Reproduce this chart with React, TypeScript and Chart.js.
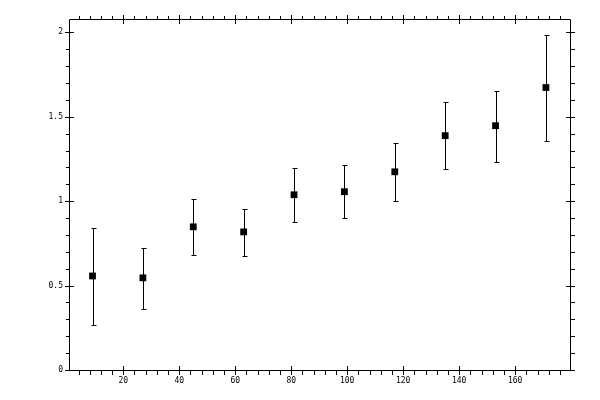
import { useEffect, useRef } from "react"
import { Chart, registerables } from "chart.js"

Chart.register(...registerables)

// measured values, x every 18 units
const xValues = [9, 27, 45, 63, 81, 99, 117, 135, 153, 171]
const yValues = [0.557, 0.546, 0.848, 0.818, 1.038, 1.056, 1.174, 1.388, 1.447, 1.673]
const yLow = [0.266, 0.361, 0.681, 0.676, 0.878, 0.901, 1.002, 1.192, 1.234, 1.358]
const yHigh = [0.84, 0.724, 1.015, 0.953, 1.198, 1.216, 1.347, 1.59, 1.655, 1.985]

const xMajorTicks = [20, 40, 60, 80, 100, 120, 140, 160]
const xMinorTicks = [4, 8, 12, 16, 24, 28, 32, 36, 44, 48, 52, 56, 64, 68, 72, 76, 84, 88, 92, 96, 104, 108, 112, 116, 124, 128, 132, 136, 144, 148, 152, 156, 164, 168, 172, 176]
const yMajorTicks = [0, 0.5, 1, 1.5, 2]
const yMinorTicks = [0.1, 0.2, 0.3, 0.4, 0.6, 0.7, 0.8, 0.9, 1.1, 1.2, 1.3, 1.4, 1.6, 1.7, 1.8, 1.9]

const X_MIN = 0.6
const X_MAX = 179.6
const Y_MIN = 0
const Y_MAX = 2.079

const px = (v: number) => Math.round(v) + 0.5

// frame, tick marks on all four sides and the error bars
const framePlugin = {
  id: "frame",
  afterDatasetsDraw(chart: any) {
    const { ctx, chartArea, scales } = chart
    const { left, right, top, bottom } = chartArea
    const xs = scales.x
    const ys = scales.y
    ctx.save()
    ctx.strokeStyle = "#000"
    ctx.lineWidth = 1
    ctx.beginPath()
    ctx.rect(px(left), px(top), Math.round(right) - Math.round(left), Math.round(bottom) - Math.round(top))

    xMajorTicks.forEach((v) => {
      const x = px(xs.getPixelForValue(v))
      ctx.moveTo(x, Math.round(bottom) - 4)
      ctx.lineTo(x, Math.round(bottom) + 5)
      ctx.moveTo(x, Math.round(top) - 4)
      ctx.lineTo(x, Math.round(top) + 5)
    })
    xMinorTicks.forEach((v) => {
      const x = px(xs.getPixelForValue(v))
      ctx.moveTo(x, Math.round(bottom))
      ctx.lineTo(x, Math.round(bottom) + 5)
      ctx.moveTo(x, Math.round(top) - 3)
      ctx.lineTo(x, Math.round(top) + 1)
    })
    yMajorTicks.forEach((v) => {
      const y = px(ys.getPixelForValue(v))
      ctx.moveTo(Math.round(left) - 4, y)
      ctx.lineTo(Math.round(left) + 5, y)
      ctx.moveTo(Math.round(right) - 4, y)
      ctx.lineTo(Math.round(right) + 5, y)
    })
    yMinorTicks.forEach((v) => {
      const y = px(ys.getPixelForValue(v))
      ctx.moveTo(Math.round(left) - 3, y)
      ctx.lineTo(Math.round(left) + 1, y)
      ctx.moveTo(Math.round(right), y)
      ctx.lineTo(Math.round(right) + 5, y)
    })
    ctx.stroke()

    // error bars
    ctx.beginPath()
    xValues.forEach((xv, i) => {
      const x = px(xs.getPixelForValue(xv))
      const yl = px(ys.getPixelForValue(yLow[i]))
      const yh = px(ys.getPixelForValue(yHigh[i]))
      ctx.moveTo(x, yl)
      ctx.lineTo(x, yh)
      ctx.moveTo(x - 2, yl)
      ctx.lineTo(x + 3, yl)
      ctx.moveTo(x - 2, yh)
      ctx.lineTo(x + 3, yh)
    })
    ctx.stroke()
    ctx.restore()
  },
}

export default function App() {
  const chartRef = useRef<HTMLCanvasElement>(null)
  const chartInstance = useRef<Chart | null>(null)

  useEffect(() => {
    if (!chartRef.current) return
    document.body.style.margin = "0"

    if (chartInstance.current) {
      chartInstance.current.destroy()
    }

    const ctx = chartRef.current.getContext("2d")
    if (!ctx) return

    const tickFont = { family: "'DejaVu Sans Mono', monospace", size: 8 }

    const chartConfig: any = {
      type: "scatter",
      data: {
        datasets: [
          {
            data: xValues.map((x, i) => ({ x, y: yValues[i] })),
            pointStyle: "rect",
            pointRadius: 4.8,
            pointBackgroundColor: "#000",
            pointBorderWidth: 0,
            borderColor: "#000",
            showLine: false,
          },
        ],
      },
      options: {
        responsive: false,
        animation: false,
        layout: { padding: { top: 19, right: 30, left: 0, bottom: 0 } },
        plugins: {
          legend: { display: false },
          tooltip: { enabled: false },
        },
        scales: {
          x: {
            type: "linear",
            min: X_MIN,
            max: X_MAX,
            grid: { display: false, drawTicks: false },
            border: { display: false },
            ticks: {
              stepSize: 20,
              includeBounds: false,
              maxRotation: 0,
              padding: 6,
              color: "#000",
              font: tickFont,
              callback: (v: number) => String(v),
            },
            afterFit: (scale: any) => {
              scale.height = 30
            },
          },
          y: {
            type: "linear",
            min: Y_MIN,
            max: Y_MAX,
            grid: { display: false, drawTicks: false },
            border: { display: false },
            ticks: {
              stepSize: 0.5,
              includeBounds: false,
              padding: 6,
              color: "#000",
              font: tickFont,
              callback: (v: number) => String(v),
            },
            afterFit: (scale: any) => {
              scale.width = 69
            },
          },
        },
      },
      plugins: [framePlugin],
    }

    chartInstance.current = new Chart(ctx, chartConfig)

    return () => {
      if (chartInstance.current) {
        chartInstance.current.destroy()
      }
    }
  }, [])

  return (
    <div style={{ width: 600, height: 400 }}>
      <canvas ref={chartRef} width={600} height={400} />
    </div>
  )
}
